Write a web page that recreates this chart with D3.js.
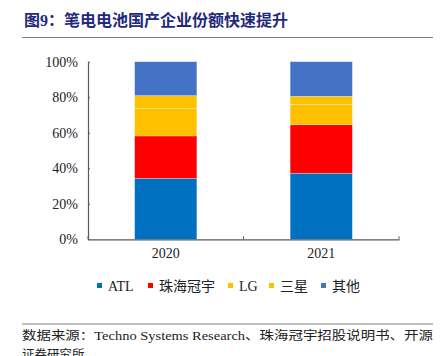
<!DOCTYPE html>
<html><head><meta charset="utf-8">
<script src="https://cdn.jsdelivr.net/npm/d3@7/dist/d3.min.js"></script>
<style>body{margin:0;background:#fff}svg{display:block}
.serif{font-family:"Liberation Serif","Times New Roman","DejaVu Serif",serif}
.cjk{font-family:"Liberation Serif","Times New Roman","Noto Sans CJK SC",serif}
</style>
</head><body>
<script>
const categories = ["2020", "2021"];
const seriesNames = ["ATL", "珠海冠宇", "LG", "三星", "其他"];
const seriesColors = ["#0070C0", "#FF0000", "#FFC000", "#FFC000", "#4472C4"];
const ATL = [34.3, 37.2];
const zhuhai = [23.9, 27.3];
const LG = [15.5, 11.5];
const samsung = [7.2, 4.5];
const others = [19.1, 19.5];
const yTicks = [0, 20, 40, 60, 80, 100];

const W = 441, H = 356;
const svg = d3.select("body").append("svg").attr("width", W).attr("height", H);

// Title
svg.append("text").attr("x", 24).attr("y", 26).attr("class", "cjk")
  .attr("font-weight", "bold")
  .attr("font-size", 16).attr("fill", "#1F2A7C").text("图9：笔电电池国产企业份额快速提升");
svg.append("line").attr("x1", 22).attr("x2", 433).attr("y1", 37.5).attr("y2", 37.5)
  .attr("stroke", "#7f7f7f").attr("stroke-width", 1.2);

const m = {l: 88, r: 399, t: 61.7, b: 239.3};
const x = d3.scaleBand().domain(categories).range([m.l, m.r]).paddingInner(0.6).paddingOuter(0.3);
const y = d3.scaleLinear().domain([0, 100]).range([m.b, m.t]);

const data = categories.map((c, i) => ({cat: c, ATL: ATL[i], "珠海冠宇": zhuhai[i], LG: LG[i], "三星": samsung[i], "其他": others[i]}));
const stack = d3.stack().keys(seriesNames)(data);

const g = svg.append("g");
stack.forEach((s, si) => {
  g.selectAll(null).data(s).enter().append("rect")
    .attr("x", d => x(d.data.cat))
    .attr("width", x.bandwidth())
    .attr("y", d => y(d[1]))
    .attr("height", d => y(d[0]) - y(d[1]))
    .attr("fill", seriesColors[si])
    .attr("stroke", "rgba(255,255,255,0.45)").attr("stroke-width", 0.6);
});

// Y axis
const yAxis = d3.axisLeft(y).tickValues(yTicks).tickFormat(d => d + "%").tickSizeInner(-2).tickSizeOuter(0).tickPadding(10);
const ya = svg.append("g").attr("transform", `translate(${m.l},0)`).call(yAxis);
ya.attr("font-family", null);
ya.select(".domain").attr("stroke", "#595959").attr("stroke-width", 1.2);
ya.selectAll(".tick line").attr("stroke", "#595959");
ya.selectAll("text").attr("class", "serif").attr("font-size", 14).attr("fill", "#222");

// X axis
const xAxis = d3.axisBottom(x).tickSize(0).tickPadding(9);
const xa = svg.append("g").attr("transform", `translate(0,${m.b})`).call(xAxis);
xa.attr("font-family", null);
xa.select(".domain").attr("stroke", "#595959").attr("stroke-width", 1.2);
xa.selectAll("text").attr("class", "serif").attr("font-size", 14).attr("fill", "#222");
const bounds = [m.l, (x(categories[0]) + x.bandwidth() + x(categories[1])) / 2, m.r];
svg.selectAll(null).data(bounds).enter().append("line")
  .attr("x1", d => d).attr("x2", d => d).attr("y1", m.b).attr("y2", m.b - 3)
  .attr("stroke", "#595959").attr("stroke-width", 1);

// Legend
const legX = [97, 148, 228, 269, 321];
const lg = svg.append("g");
seriesNames.forEach((n, i) => {
  lg.append("rect").attr("x", legX[i]).attr("y", 283).attr("width", 5).attr("height", 5).attr("fill", seriesColors[i]);
  lg.append("text").attr("x", legX[i] + 11).attr("y", 291).attr("class", "cjk")
    .attr("font-size", 14).attr("fill", "#222").text(n);
});

// Footer
svg.append("line").attr("x1", 22).attr("x2", 433).attr("y1", 324).attr("y2", 324)
  .attr("stroke", "#7f7f7f").attr("stroke-width", 1.2);
svg.append("text").attr("x", 22).attr("y", 340).attr("class", "cjk").attr("font-size", 12.5)
  .attr("fill", "#222").attr("textLength", 411).attr("lengthAdjust", "spacingAndGlyphs")
  .text("数据来源：Techno Systems Research、珠海冠宇招股说明书、开源");
svg.append("text").attr("x", 22).attr("y", 359).attr("class", "cjk").attr("font-size", 12.5)
  .attr("fill", "#222").text("证券研究所");
</script>
</body></html>
